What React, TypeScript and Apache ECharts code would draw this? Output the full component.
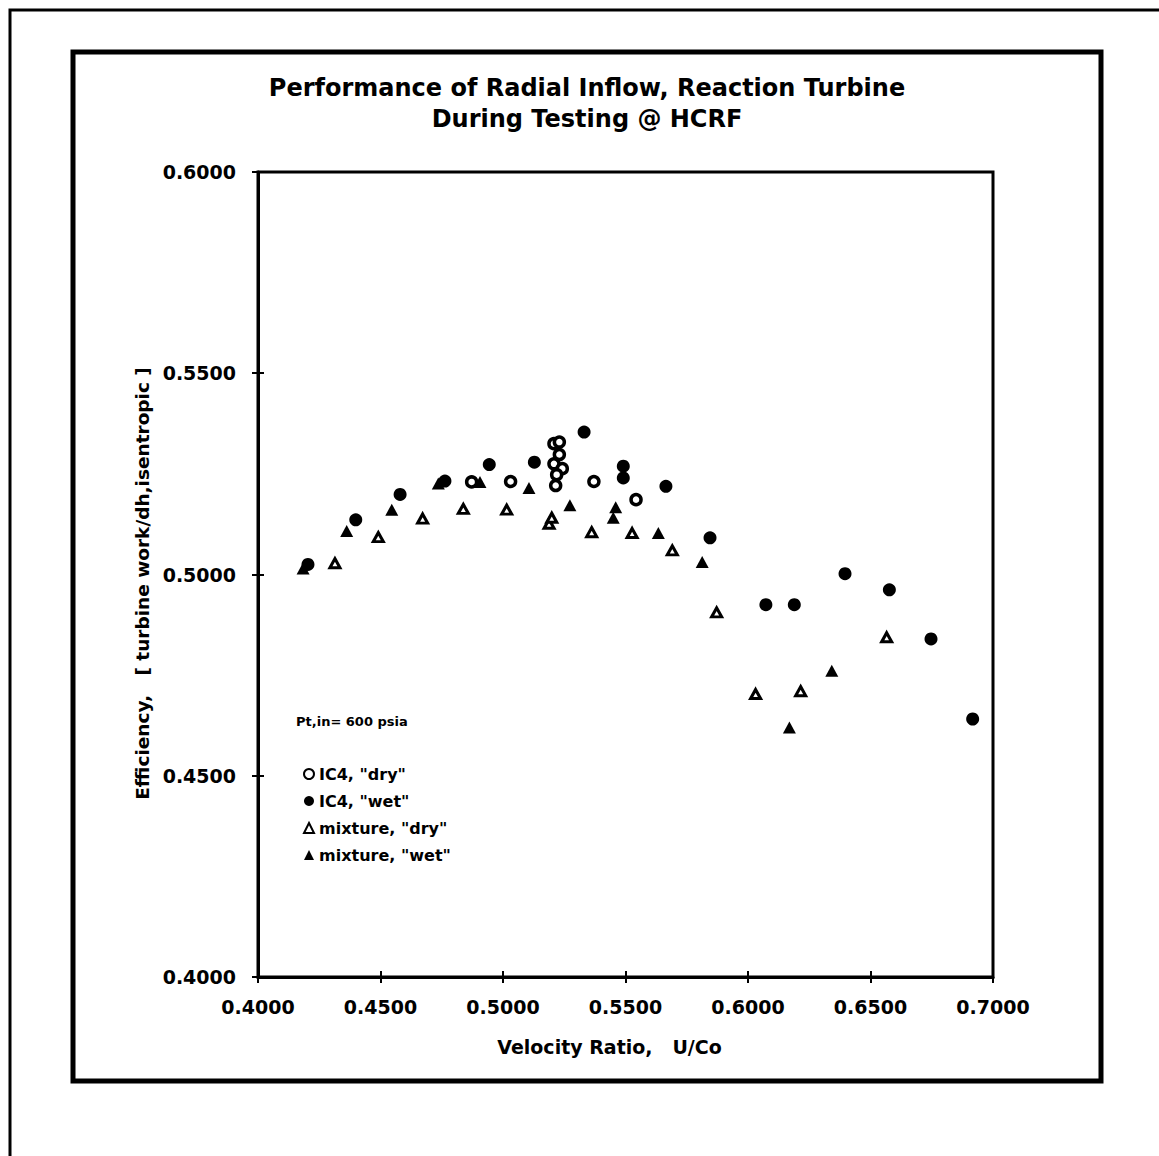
import { useEffect, useRef } from "react";
import * as echarts from "echarts";

const titleLines = ["Performance of Radial Inflow, Reaction Turbine", "During Testing @ HCRF"];
const xAxisName = "Velocity Ratio,   U/Co";
const yAxisName = "Efficiency,   [ turbine work/dh,isentropic ]";
const noteText = "Pt,in= 600 psia";
const seriesNames = ['IC4, "dry"', 'IC4, "wet"', 'mixture, "dry"', 'mixture, "wet"'];

const xMin = 0.4;
const xMax = 0.7;
const yMin = 0.4;
const yMax = 0.6;
const tickStep = 0.05;

const ic4Dry: number[][] = [
  [0.4872, 0.523], [0.5031, 0.5231], [0.5208, 0.5325], [0.523, 0.5329],
  [0.523, 0.5298], [0.5208, 0.5275], [0.5242, 0.5263], [0.5219, 0.5248],
  [0.5215, 0.5221], [0.5371, 0.5231], [0.5543, 0.5186],
];
const ic4Wet: number[][] = [
  [0.4204, 0.5025], [0.4399, 0.5136], [0.458, 0.5199], [0.4763, 0.5232],
  [0.4944, 0.5273], [0.5128, 0.5279], [0.5331, 0.5354], [0.5491, 0.5269],
  [0.5491, 0.524], [0.5665, 0.5219], [0.5845, 0.5091], [0.6073, 0.4925],
  [0.6189, 0.4925], [0.6396, 0.5002], [0.6577, 0.4962], [0.6747, 0.484],
  [0.6917, 0.4641],
];
const mixDry: number[][] = [
  [0.4314, 0.5028], [0.4491, 0.5093], [0.4672, 0.5139], [0.4838, 0.5163],
  [0.5015, 0.5161], [0.5188, 0.5126], [0.5199, 0.5141], [0.5362, 0.5105],
  [0.5527, 0.5103], [0.5691, 0.506], [0.5872, 0.4906], [0.6031, 0.4703],
  [0.6215, 0.471], [0.6566, 0.4844],
];
const mixWet: number[][] = [
  [0.4184, 0.5015], [0.4362, 0.5108], [0.4546, 0.5161], [0.4736, 0.5226],
  [0.4906, 0.523], [0.5106, 0.5215], [0.5273, 0.5172], [0.545, 0.5141],
  [0.546, 0.5167], [0.5634, 0.5103], [0.5813, 0.5031], [0.6169, 0.462],
  [0.6342, 0.4761],
];

const FONT = "'DejaVu Sans', 'Liberation Sans', Arial, sans-serif";

export default function App() {
  const ref = useRef<HTMLDivElement>(null);
  useEffect(() => {
    if (!ref.current) return;
    const chart = echarts.init(ref.current, null, { renderer: "svg" });
    const fmt = (v: number) => v.toFixed(4);
    const baseAxis = (min: number, max: number) => ({
      type: "value",
      min,
      max,
      interval: tickStep,
      splitLine: { show: false },
    });
    chart.setOption({
      animation: false,
      backgroundColor: "#fff",
      textStyle: { fontFamily: FONT, color: "#000" },
      grid: {
        left: 258,
        top: 172,
        width: 735,
        height: 805,
        show: true,
        borderColor: "#000",
        borderWidth: 3,
        backgroundColor: "transparent",
      },
      legend: {
        orient: "vertical",
        left: 298,
        top: 761,
        itemWidth: 10,
        itemHeight: 10,
        itemGap: 11,
        selectedMode: false,
        data: [
          { name: seriesNames[0], itemStyle: { borderWidth: 2 } },
          { name: seriesNames[1] },
          { name: seriesNames[2], itemStyle: { borderWidth: 2 } },
          { name: seriesNames[3] },
        ],
        textStyle: { fontFamily: FONT, fontSize: 16, fontWeight: "bold", color: "#000", lineHeight: 16 },
      },
      xAxis: [
        {
          ...baseAxis(xMin, xMax),
          position: "bottom",
          axisLine: { show: true, lineStyle: { color: "#000", width: 3 } },
          axisTick: { show: true, inside: false, length: 6, lineStyle: { color: "#000", width: 2 } },
          axisLabel: { formatter: fmt, fontFamily: FONT, fontSize: 19, fontWeight: "bold", color: "#000", margin: 20 },
          name: xAxisName,
          nameLocation: "middle",
          nameGap: 60,
          nameTextStyle: { fontFamily: FONT, fontSize: 19, fontWeight: "bold", color: "#000", padding: [0, 32, 0, 0] },
        },
        {
          ...baseAxis(xMin, xMax),
          position: "bottom",
          axisLine: { show: false },
          axisTick: { show: true, inside: true, length: 6, lineStyle: { color: "#000", width: 2 } },
          axisLabel: { show: false },
        },
      ],
      yAxis: [
        {
          ...baseAxis(yMin, yMax),
          position: "left",
          axisLine: { show: true, lineStyle: { color: "#000", width: 3 } },
          axisTick: { show: true, inside: false, length: 6, lineStyle: { color: "#000", width: 2 } },
          axisLabel: { formatter: fmt, fontFamily: FONT, fontSize: 19, fontWeight: "bold", color: "#000", margin: 22 },
          name: yAxisName,
          nameLocation: "middle",
          nameGap: 96,
          nameTextStyle: { fontFamily: FONT, fontSize: 18.5, fontWeight: "bold", color: "#000", padding: [0, 18, 0, 0] },
        },
        {
          ...baseAxis(yMin, yMax),
          position: "left",
          axisLine: { show: false },
          axisTick: { show: true, inside: true, length: 6, lineStyle: { color: "#000", width: 2 } },
          axisLabel: { show: false },
        },
      ],
      graphic: [
        {
          type: "polyline",
          shape: { points: [[10, 1156], [10, 10], [1159, 10]] },
          style: { fill: "none", stroke: "#000", lineWidth: 3 },
        },
        {
          type: "rect",
          shape: { x: 73, y: 52, width: 1028, height: 1029 },
          style: { fill: "none", stroke: "#000", lineWidth: 5 },
        },
        {
          type: "text",
          x: 587,
          y: 88,
          style: { text: titleLines[0], textAlign: "center", textVerticalAlign: "middle", font: `bold 24px ${FONT}`, fill: "#000" },
        },
        {
          type: "text",
          x: 587,
          y: 119,
          style: { text: titleLines[1], textAlign: "center", textVerticalAlign: "middle", font: `bold 24px ${FONT}`, fill: "#000" },
        },
        {
          type: "text",
          x: 296,
          y: 721,
          style: { text: noteText, textAlign: "left", textVerticalAlign: "middle", font: `bold 13px ${FONT}`, fill: "#000" },
        },
      ],
      series: [
        {
          name: seriesNames[0],
          type: "scatter",
          data: ic4Dry,
          symbol: "circle",
          symbolSize: 10,
          itemStyle: { color: "#fff", borderColor: "#000", borderWidth: 3.5, opacity: 1 },
          z: 4,
        },
        {
          name: seriesNames[1],
          type: "scatter",
          data: ic4Wet,
          symbol: "circle",
          symbolSize: 13,
          itemStyle: { color: "#000", opacity: 1 },
          z: 3,
        },
        {
          name: seriesNames[2],
          type: "scatter",
          data: mixDry,
          symbol: "triangle",
          symbolSize: [10, 9],
          itemStyle: { color: "#fff", borderColor: "#000", borderWidth: 3, opacity: 1 },
          z: 3,
        },
        {
          name: seriesNames[3],
          type: "scatter",
          data: mixWet,
          symbol: "triangle",
          symbolSize: [13, 12],
          itemStyle: { color: "#000", opacity: 1 },
          z: 3,
        },
      ],
    });
    return () => chart.dispose();
  }, []);
  return (
    <div
      ref={ref}
      style={{ position: "absolute", left: 0, top: 0, width: 1159, height: 1156, background: "#fff" }}
    />
  );
}
